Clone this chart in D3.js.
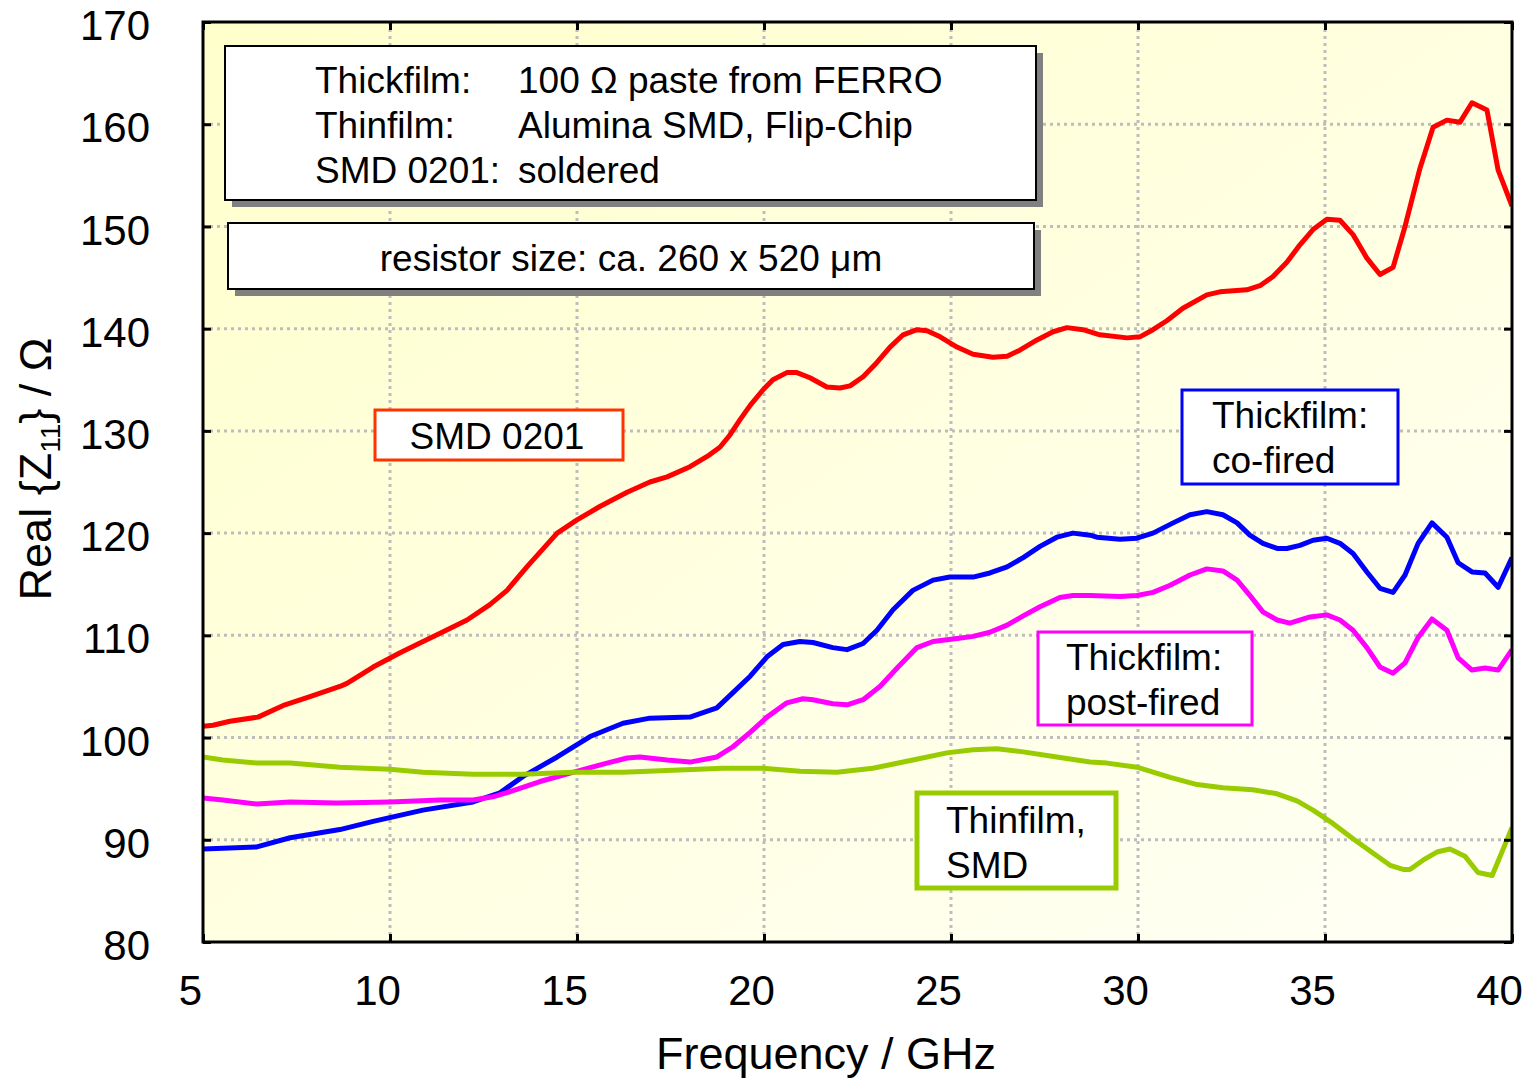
<!DOCTYPE html>
<html>
<head>
<meta charset="utf-8">
<script src="https://cdn.jsdelivr.net/npm/d3@7"></script>
<style>
  html, body { margin: 0; padding: 0; background: #ffffff; }
  svg { display: block; font-family: "Liberation Sans", Arial, sans-serif; }
</style>
</head>
<body>
<svg id="chart" width="1523" height="1079"></svg>
<script>
// Real part of Z11 versus frequency for four resistor technologies

const xTicks = [5, 10, 15, 20, 25, 30, 35, 40];
const yTicks = [80, 90, 100, 110, 120, 130, 140, 150, 160, 170];

// SMD 0201 (soldered)
const smdFreq = [5.0, 5.27, 5.72, 6.47, 7.19, 7.86, 8.66, 8.85, 9.55, 10.27, 10.72, 11.34, 12.06, 12.67, 13.13, 13.66, 14.47, 15.0, 15.61, 16.34, 16.95, 17.41, 18.02, 18.48, 18.82, 19.09, 19.36, 19.63, 19.97, 20.24, 20.61, 20.88, 21.23, 21.68, 22.03, 22.30, 22.65, 23.02, 23.37, 23.72, 24.09, 24.36, 24.71, 25.16, 25.59, 26.12, 26.50, 26.84, 27.30, 27.73, 28.10, 28.53, 28.98, 29.71, 30.05, 30.40, 30.78, 31.20, 31.84, 32.19, 32.91, 33.26, 33.61, 33.98, 34.33, 34.68, 35.05, 35.40, 35.75, 36.12, 36.47, 36.82, 37.14, 37.54, 37.89, 38.26, 38.61, 38.93, 39.33, 39.63, 40.0];
const smdVal  = [101.1, 101.2, 101.6, 102.0, 103.2, 104.0, 105.0, 105.3, 106.9, 108.3, 109.1, 110.2, 111.5, 113.0, 114.4, 116.7, 120.0, 121.3, 122.6, 124.0, 125.0, 125.5, 126.5, 127.5, 128.4, 129.6, 131.1, 132.5, 134.0, 135.0, 135.7, 135.7, 135.2, 134.3, 134.2, 134.4, 135.3, 136.7, 138.2, 139.4, 139.9, 139.8, 139.2, 138.2, 137.5, 137.2, 137.3, 137.9, 138.9, 139.7, 140.1, 139.9, 139.4, 139.1, 139.2, 139.9, 140.8, 142.0, 143.3, 143.6, 143.8, 144.2, 145.1, 146.5, 148.2, 149.7, 150.7, 150.6, 149.2, 146.9, 145.3, 146.0, 150.0, 155.7, 159.7, 160.4, 160.2, 162.1, 161.4, 155.5, 152.0];

// Thickfilm, co-fired
const coFreq = [5.0, 6.44, 7.33, 8.66, 9.55, 10.88, 12.22, 12.94, 13.56, 14.47, 15.35, 16.23, 16.95, 18.02, 18.74, 19.17, 19.63, 20.08, 20.51, 20.96, 21.31, 21.84, 22.22, 22.65, 23.02, 23.45, 23.98, 24.52, 24.97, 25.59, 26.04, 26.50, 26.93, 27.38, 27.83, 28.26, 28.72, 28.90, 29.52, 29.97, 30.40, 30.94, 31.39, 31.84, 32.27, 32.65, 32.99, 33.34, 33.72, 33.98, 34.33, 34.68, 35.05, 35.40, 35.75, 36.12, 36.47, 36.82, 37.14, 37.49, 37.86, 38.26, 38.56, 38.93, 39.28, 39.63, 40.0];
const coVal  = [89.1, 89.3, 90.2, 91.0, 91.8, 92.9, 93.7, 94.6, 96.2, 98.1, 100.1, 101.4, 101.9, 102.0, 102.9, 104.4, 106.0, 107.9, 109.1, 109.4, 109.3, 108.8, 108.6, 109.2, 110.5, 112.5, 114.4, 115.4, 115.7, 115.7, 116.1, 116.7, 117.6, 118.7, 119.6, 120.0, 119.8, 119.6, 119.4, 119.5, 120.0, 121.0, 121.8, 122.1, 121.8, 121.0, 119.8, 119.0, 118.5, 118.5, 118.8, 119.3, 119.5, 119.0, 118.0, 116.2, 114.6, 114.2, 115.9, 119.0, 121.0, 119.6, 117.1, 116.2, 116.1, 114.7, 117.6];

// Thickfilm, post-fired
const postFreq = [5.0, 5.53, 6.44, 7.33, 8.58, 10.0, 11.34, 12.22, 12.75, 13.21, 14.01, 14.89, 15.80, 16.34, 16.68, 17.41, 18.02, 18.74, 19.17, 19.63, 20.08, 20.61, 21.04, 21.31, 21.84, 22.22, 22.65, 23.10, 23.56, 24.09, 24.52, 25.16, 25.59, 26.04, 26.50, 26.93, 27.38, 27.91, 28.26, 28.72, 29.52, 29.97, 30.40, 30.86, 31.39, 31.84, 32.27, 32.65, 32.99, 33.34, 33.72, 34.06, 34.60, 35.05, 35.40, 35.75, 36.12, 36.47, 36.82, 37.14, 37.49, 37.86, 38.26, 38.56, 38.93, 39.28, 39.63, 40.0];
const postVal  = [94.1, 93.9, 93.5, 93.7, 93.6, 93.7, 93.9, 93.9, 94.2, 94.7, 95.7, 96.6, 97.5, 98.0, 98.1, 97.8, 97.6, 98.1, 99.1, 100.5, 102.0, 103.4, 103.8, 103.7, 103.3, 103.2, 103.7, 105.0, 106.8, 108.8, 109.4, 109.7, 109.9, 110.3, 111.0, 111.9, 112.8, 113.7, 113.9, 113.9, 113.8, 113.9, 114.2, 114.9, 115.9, 116.5, 116.3, 115.4, 113.9, 112.3, 111.5, 111.2, 111.8, 112.0, 111.5, 110.5, 108.8, 106.9, 106.3, 107.3, 109.8, 111.6, 110.5, 107.8, 106.6, 106.8, 106.6, 108.6];

// Thinfilm, SMD
const thinFreq = [5.0, 5.53, 6.44, 7.33, 8.66, 10.0, 10.88, 12.22, 13.56, 14.89, 16.23, 17.57, 18.90, 19.97, 20.96, 21.95, 22.91, 23.98, 24.89, 25.59, 26.23, 26.93, 27.83, 28.72, 29.17, 29.97, 30.86, 31.58, 32.27, 33.07, 33.72, 34.25, 34.68, 35.21, 35.75, 36.28, 36.74, 37.09, 37.27, 37.62, 37.99, 38.34, 38.74, 39.09, 39.47, 39.81, 40.0];
const thinVal  = [98.1, 97.8, 97.5, 97.5, 97.1, 96.9, 96.6, 96.4, 96.4, 96.6, 96.6, 96.8, 97.0, 97.0, 96.7, 96.6, 97.0, 97.8, 98.5, 98.8, 98.9, 98.6, 98.1, 97.6, 97.5, 97.1, 96.1, 95.4, 95.1, 94.9, 94.5, 93.8, 92.9, 91.6, 90.1, 88.7, 87.5, 87.1, 87.1, 88.0, 88.8, 89.1, 88.4, 86.8, 86.5, 89.5, 91.2];

const series = [
  { freq: smdFreq,  val: smdVal,  color: "#ff0000" },
  { freq: coFreq,   val: coVal,   color: "#0000ff" },
  { freq: postFreq, val: postVal, color: "#ff00ff" },
  { freq: thinFreq, val: thinVal, color: "#99cc00" }
];

const plotL = 203, plotR = 1512, plotT = 22, plotB = 942;
const svg = d3.select("#chart");

const x = d3.scaleLinear().domain([5, 40]).range([plotL, plotR]);
const y = d3.scaleLinear().domain([80, 170]).range([plotB, plotT]);

// Plot background: soft yellow fading toward the lower right
const defs = svg.append("defs");
const grad = defs.append("linearGradient").attr("id", "bg")
  .attr("x1", "0").attr("y1", "0").attr("x2", "1").attr("y2", "1");
grad.append("stop").attr("offset", "0%").attr("stop-color", "#ffffcc");
grad.append("stop").attr("offset", "100%").attr("stop-color", "#fffff6");
defs.append("clipPath").attr("id", "plotClip").append("rect")
  .attr("x", plotL).attr("y", plotT).attr("width", plotR - plotL).attr("height", plotB - plotT);

svg.append("rect").attr("x", plotL).attr("y", plotT)
  .attr("width", plotR - plotL).attr("height", plotB - plotT)
  .attr("fill", "url(#bg)");

// Dotted grid
const grid = svg.append("g").attr("stroke", "#bdbdbd").attr("stroke-width", 3)
  .attr("stroke-dasharray", "3,4");
grid.selectAll(".gx").data(xTicks.slice(1, -1)).join("line").attr("class", "gx")
  .attr("x1", d => x(d)).attr("x2", d => x(d)).attr("y1", plotT).attr("y2", plotB);
grid.selectAll(".gy").data(yTicks.slice(1, -1)).join("line").attr("class", "gy")
  .attr("y1", d => y(d)).attr("y2", d => y(d)).attr("x1", plotL).attr("x2", plotR);

// Curves
const line = d3.line().x(d => x(d[0])).y(d => y(d[1]));
const curves = svg.append("g").attr("clip-path", "url(#plotClip)");
series.forEach(s => {
  curves.append("path")
    .datum(s.freq.map((f, i) => [f, s.val[i]]))
    .attr("d", line)
    .attr("fill", "none")
    .attr("stroke", s.color)
    .attr("stroke-width", 5)
    .attr("stroke-linejoin", "round");
});

// Axes with inward ticks on all four sides
function styleAxis(g) {
  g.select(".domain").remove();
  g.selectAll(".tick line").attr("stroke", "#000").attr("stroke-width", 3);
  g.selectAll(".tick text").attr("fill", "#000").attr("font-size", 42)
    .attr("font-family", "Liberation Sans, Arial, sans-serif");
}
svg.append("g").attr("transform", `translate(0,${plotB})`)
  .call(d3.axisBottom(x).tickValues(xTicks).tickSize(-8).tickPadding(33).tickFormat(d3.format("d")))
  .call(styleAxis)
  .call(g => g.selectAll(".tick text").attr("dx", -13));
svg.append("g").attr("transform", `translate(0,${plotT})`)
  .call(d3.axisTop(x).tickValues(xTicks).tickSize(-8).tickFormat(""))
  .call(styleAxis);
svg.append("g").attr("transform", `translate(${plotL},0)`)
  .call(d3.axisLeft(y).tickValues(yTicks).tickSize(-8).tickPadding(53).tickFormat(d3.format("d")))
  .call(styleAxis)
  .call(g => g.selectAll(".tick text").attr("dy", "0.42em"));
svg.append("g").attr("transform", `translate(${plotR},0)`)
  .call(d3.axisRight(y).tickValues(yTicks).tickSize(-8).tickFormat(""))
  .call(styleAxis);

svg.append("rect").attr("x", plotL).attr("y", plotT)
  .attr("width", plotR - plotL).attr("height", plotB - plotT)
  .attr("fill", "none").attr("stroke", "#000").attr("stroke-width", 3);

// Axis titles
svg.append("text").attr("x", 826).attr("y", 1069).attr("text-anchor", "middle")
  .attr("font-size", 45).text("Frequency / GHz");

const yt = svg.append("text").attr("transform", "translate(51,469) rotate(-90)")
  .attr("text-anchor", "middle").attr("font-size", 45);
yt.append("tspan").text("Real {Z");
yt.append("tspan").attr("font-size", 28).attr("dy", 9).text("11");
yt.append("tspan").attr("dy", -9).text("} / Ω");

// Annotation boxes with drop shadow
function shadowBox(x0, y0, w, h) {
  svg.append("rect").attr("x", x0 + 7).attr("y", y0 + 7).attr("width", w).attr("height", h)
    .attr("fill", "#808080");
  svg.append("rect").attr("x", x0).attr("y", y0).attr("width", w).attr("height", h)
    .attr("fill", "#ffffff").attr("stroke", "#000").attr("stroke-width", 2);
}
shadowBox(225, 46, 811, 154);
const info = [["Thickfilm:", "100 Ω paste from FERRO"], ["Thinfilm:", "Alumina SMD, Flip-Chip"], ["SMD 0201:", "soldered"]];
info.forEach((r, i) => {
  svg.append("text").attr("x", 315).attr("y", 93 + i * 45).attr("font-size", 37).text(r[0]);
  svg.append("text").attr("x", 518).attr("y", 93 + i * 45).attr("font-size", 37).text(r[1]);
});
shadowBox(228, 223, 806, 66);
svg.append("text").attr("x", 631).attr("y", 271).attr("text-anchor", "middle")
  .attr("font-size", 37).text("resistor size: ca. 260 x 520 μm");

// Series labels
function labelBox(x0, y0, w, h, color, sw, lines, tx, ty, anchor) {
  svg.append("rect").attr("x", x0).attr("y", y0).attr("width", w).attr("height", h)
    .attr("fill", "#ffffff").attr("stroke", color).attr("stroke-width", sw);
  lines.forEach((t, i) => {
    svg.append("text").attr("x", tx).attr("y", ty + i * 45).attr("font-size", 37)
      .attr("text-anchor", anchor).text(t);
  });
}
labelBox(375, 410, 248, 50, "#ff3300", 3, ["SMD 0201"], 497, 449, "middle");
labelBox(1182, 390, 216, 94, "#0000ff", 3, ["Thickfilm:", "co-fired"], 1212, 428, "start");
labelBox(1038, 632, 214, 93, "#ff00ff", 3, ["Thickfilm:", "post-fired"], 1066, 670, "start");
labelBox(917, 793, 199, 95, "#99cc00", 5, ["Thinfilm,", "SMD"], 946, 833, "start");
</script>
</body>
</html>
